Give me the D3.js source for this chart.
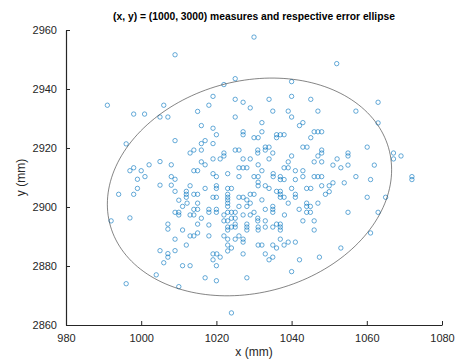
<!DOCTYPE html>
<html>
<head>
<meta charset="utf-8">
<script src="https://cdn.jsdelivr.net/npm/d3@7"></script>
<style>
  html, body { margin: 0; padding: 0; background: #fff; }
  text { font-family: "Liberation Sans", Arial, Helvetica, sans-serif; }
</style>
</head>
<body>
<script>
// ---- data ----
const xTicks = [980, 1000, 1020, 1040, 1060, 1080];
const yTicks = [2860, 2880, 2900, 2920, 2940, 2960];
const titleText = "(x, y) = (1000, 3000) measures and respective error ellipse";
const xLabel = "x (mm)";
const yLabel = "y (mm)";
const ellipseCenter = [1028.8, 2906.8];
const ellipseCov = [[1429, 221], [221, 1362]];

const xValues = [
991.0,1009.0,998.0,1000.9,1006.0,1005.0,1007.1,1030.0,1025.0,1022.0,
1040.0,1019.1,1018.0,1025.0,1027.1,1029.0,1034.0,1040.0,1045.1,1015.0,
1035.0,1039.1,1040.0,1047.0,1025.0,1032.1,1016.0,1019.1,1043.0,1042.1,
1052.0,1063.0,1057.1,1063.0,996.0,1009.0,997.0,998.0,1000.0,1002.1,
1005.0,1008.0,999.0,1001.0,1008.0,1009.0,994.0,998.0,999.0,1005.0,
1008.0,1009.0,1012.0,1010.0,1012.0,1011.0,1012.2,1009.0,1010.0,1010.0,
997.0,992.0,1007.1,1007.1,1011.0,1009.0,1012.0,1005.0,1007.1,1007.1,
1009.0,1006.0,1011.0,1004.0,996.0,1010.0,1015.0,1013.0,1014.0,1018.0,
1018.0,1023.0,1025.0,1022.0,1023.0,1025.0,1026.0,1027.1,1027.1,1023.0,
1024.0,1023.0,1028.1,1028.1,1031.1,1031.1,1033.0,1035.0,1037.0,1037.0,
1031.1,1032.1,1035.0,1036.0,1037.0,1038.0,1039.1,1041.0,1046.0,1019.1,
1020.1,1019.1,1021.0,1027.1,1033.0,1035.0,1034.0,1042.1,1047.4,1013.0,
1020.0,1040.0,1017.0,1020.0,1028.1,1024.0,1061.0,1053.1,1047.0,1048.0,
1048.0,1048.0,1047.0,1048.0,1055.0,1055.0,1060.1,1052.1,1051.0,1053.1,
1055.0,1062.0,1067.1,1067.1,1069.1,1047.0,1048.0,1057.1,1061.0,1072.0,
1072.0,1048.0,1050.0,1051.0,1054.0,1050.0,1049.0,1047.0,1060.1,1065.0,
1055.0,1063.0,
1020.0,1027.1,1027.1,1032.1,1030.0,1031.1,1036.0,1037.0,1038.0,1036.0,
1046.0,1045.1,1017.0,1016.0,1019.1,1014.0,1013.0,1016.0,1022.0,1022.0,
1025.0,1026.0,1031.0,1031.0,1033.0,1034.0,1033.0,1035.0,1043.0,1044.1,
1016.0,1017.0,1019.1,1021.0,1027.1,1029.0,1034.0,1040.0,1039.1,1046.0,
1014.0,1015.0,1019.1,1020.0,1023.0,1026.0,1027.1,1028.1,1026.0,1031.1,
1030.0,1031.1,1032.1,1035.1,1035.1,1038.0,1039.1,1041.0,1043.0,1043.0,
1046.0,1013.0,1017.0,1020.0,1020.0,1023.0,1024.0,1031.1,1031.1,1033.0,
1034.0,1037.0,1037.0,1038.0,1041.0,1040.0,1036.0,1044.0,1045.1,1012.0,
1014.0,1015.0,1019.1,1020.0,1023.0,1023.0,1023.0,1026.0,1027.1,1029.0,
1030.0,1028.1,1032.1,1037.0,1037.0,1037.0,1038.0,1041.0,1041.0,1015.0,
1023.0,1023.0,1026.0,1028.1,1029.0,1035.0,1035.0,1035.0,1033.0,1039.1,
1042.0,1044.0,1044.0,1045.0,1014.0,1015.0,1018.0,1018.0,1020.0,1020.0,
1013.0,1014.0,1023.0,1024.0,1025.0,1025.0,1024.0,1027.1,1029.0,1030.0,
1031.0,1038.1,1044.0,1045.0,1016.0,1022.0,1015.0,1022.0,1023.0,1025.0,
1028.1,1031.0,1033.0,1036.0,1037.0,1043.0,1046.0,1023.0,1024.0
];
const yValues = [
2934.5,2951.6,2931.5,2931.5,2934.5,2930.5,2930.5,2957.6,2943.5,2941.5,
2942.5,2937.5,2934.5,2936.5,2935.5,2933.6,2936.5,2937.5,2936.5,2932.4,
2932.5,2932.5,2930.5,2932.5,2930.5,2928.6,2927.6,2926.7,2928.6,2927.6,
2948.6,2935.5,2932.5,2928.5,2921.4,2922.5,2912.3,2913.3,2912.3,2914.3,
2915.4,2914.3,2909.4,2910.3,2910.3,2909.4,2904.3,2904.3,2906.3,2907.4,
2907.4,2905.3,2905.3,2902.3,2903.3,2900.2,2901.3,2898.2,2898.2,2897.3,
2896.3,2895.3,2894.2,2892.5,2892.2,2889.1,2887.1,2885.2,2884.2,2883.0,
2885.2,2881.1,2880.1,2877.0,2874.0,2873.0,2891.2,2890.2,2890.2,2890.2,
2893.9,2892.2,2893.2,2890.2,2889.1,2889.1,2890.2,2889.1,2888.1,2887.1,
2886.1,2885.1,2893.2,2892.2,2893.2,2892.2,2893.2,2893.2,2893.2,2892.2,
2887.1,2887.1,2887.1,2886.1,2889.1,2887.1,2888.1,2888.1,2892.2,2884.1,
2884.1,2882.1,2883.0,2884.1,2884.1,2883.0,2882.1,2882.1,2883.0,2880.1,
2880.1,2878.1,2876.0,2875.0,2876.0,2864.1,2891.2,2886.1,2925.5,2925.5,
2919.3,2918.3,2917.3,2915.3,2918.3,2917.3,2920.3,2916.3,2914.2,2913.3,
2914.2,2914.2,2918.3,2916.3,2917.3,2910.3,2910.3,2910.3,2909.3,2910.3,
2909.3,2907.2,2907.2,2908.2,2908.2,2905.2,2904.3,2901.3,2903.3,2903.3,
2898.2,2898.2,
2924.5,2925.5,2924.5,2925.5,2923.5,2923.5,2924.5,2924.5,2924.5,2923.5,
2925.5,2923.5,2922.5,2921.5,2921.5,2919.3,2918.3,2919.3,2918.3,2917.3,
2919.3,2919.3,2919.3,2918.3,2920.3,2920.3,2919.3,2918.3,2920.3,2920.3,
2915.3,2914.3,2916.3,2916.3,2916.3,2916.3,2916.3,2917.3,2915.3,2915.3,
2912.3,2912.3,2911.3,2910.3,2911.3,2913.3,2913.3,2913.3,2910.3,2914.3,
2910.3,2910.3,2912.3,2911.3,2910.3,2913.3,2913.3,2912.3,2912.3,2910.3,
2910.3,2907.2,2906.3,2907.2,2906.3,2906.3,2906.3,2908.4,2907.2,2907.2,
2906.3,2910.3,2909.3,2909.3,2909.3,2906.3,2905.3,2906.3,2906.3,2904.3,
2904.3,2904.3,2903.3,2903.3,2904.3,2903.3,2902.4,2903.3,2903.3,2904.3,
2904.3,2902.4,2902.4,2905.3,2904.3,2903.3,2903.3,2904.3,2903.3,2901.3,
2901.3,2900.2,2900.2,2900.2,2901.3,2900.2,2899.2,2898.2,2899.2,2901.3,
2899.2,2901.3,2900.2,2900.2,2899.2,2899.2,2899.2,2898.2,2899.2,2898.2,
2897.3,2897.3,2898.2,2898.2,2898.2,2896.2,2896.2,2897.3,2897.3,2898.2,
2896.2,2897.3,2898.2,2898.2,2896.2,2897.3,2894.2,2895.3,2895.3,2894.2,
2894.2,2895.3,2895.3,2894.2,2894.2,2895.3,2895.3,2893.2,2893.2
];

// ---- chart ----
const W = 458, H = 360;
const margin = { left: 66, right: 16, top: 30, bottom: 35 };
const svg = d3.select("body").append("svg")
  .attr("width", W).attr("height", H)
  .style("background", "#fff");

const x = d3.scaleLinear().domain([980, 1080]).range([margin.left, W - margin.right]);
const y = d3.scaleLinear().domain([2860, 2960]).range([H - margin.bottom, margin.top]);

const axisColor = "#262626";

// Points
const pts = d3.range(Math.min(xValues.length, yValues.length)).map(i => [xValues[i], yValues[i]]);
svg.append("g").selectAll("circle").data(pts).join("circle")
  .attr("cx", d => x(d[0])).attr("cy", d => y(d[1]))
  .attr("r", 2.2)
  .attr("fill", "none")
  .attr("stroke", "#0072BD")
  .attr("stroke-width", 0.6);

// Error ellipse from covariance (Cholesky)
const L11 = Math.sqrt(ellipseCov[0][0]);
const L21 = ellipseCov[1][0] / L11;
const L22 = Math.sqrt(ellipseCov[1][1] - L21 * L21);
const ellPts = d3.range(0, 361, 2).map(deg => {
  const t = deg * Math.PI / 180;
  return [ellipseCenter[0] + L11 * Math.cos(t), ellipseCenter[1] + L21 * Math.cos(t) + L22 * Math.sin(t)];
});
svg.append("path")
  .attr("d", d3.line().x(d => x(d[0])).y(d => y(d[1]))(ellPts))
  .attr("fill", "none")
  .attr("stroke", "#333")
  .attr("stroke-width", 0.6);

// Axes
const fmt = d3.format("d");
const xAxis = d3.axisBottom(x).tickValues(xTicks).tickFormat(fmt).tickSizeInner(-4).tickSizeOuter(0).tickPadding(9);
const gx = svg.append("g").attr("transform", `translate(0,${H - margin.bottom})`).call(xAxis);
const yAxis = d3.axisLeft(y).tickValues(yTicks).tickFormat(fmt).tickSizeInner(-4).tickSizeOuter(0).tickPadding(9);
const gy = svg.append("g").attr("transform", `translate(${margin.left},0)`).call(yAxis);

[gx, gy].forEach(g => {
  g.select(".domain").attr("stroke", axisColor).attr("stroke-width", 1.2);
  g.selectAll(".tick line").attr("stroke", axisColor).attr("stroke-width", 1);
  g.selectAll(".tick text").attr("fill", axisColor)
    .style("font-size", "11px").style("font-family", '"Liberation Sans", Arial, sans-serif');
});

// Labels
svg.append("text")
  .attr("x", (margin.left + W - margin.right) / 2).attr("y", H - 4)
  .attr("text-anchor", "middle").attr("fill", axisColor)
  .style("font-size", "12px").text(xLabel);

svg.append("text")
  .attr("transform", `translate(25,${(margin.top + H - margin.bottom) / 2}) rotate(-90)`)
  .attr("text-anchor", "middle").attr("fill", axisColor)
  .style("font-size", "12px").text(yLabel);

svg.append("text")
  .attr("x", (margin.left + W - margin.right) / 2).attr("y", 20)
  .attr("text-anchor", "middle").attr("fill", "#000")
  .style("font-size", "10.3px").style("font-weight", "bold").text(titleText);
</script>
</body>
</html>
